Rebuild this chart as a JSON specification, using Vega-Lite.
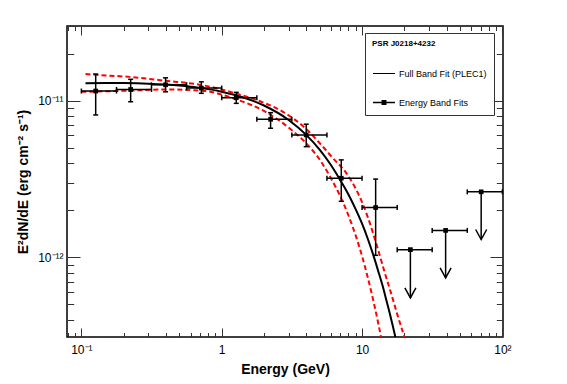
{
  "$schema": "https://vega.github.io/schema/vega-lite/v6.json",
  "width": 436,
  "height": 311,
  "autosize": {"type": "none"},
  "padding": {"left": 67, "top": 26, "right": 64, "bottom": 47},
  "background": "white",
  "datasets": {
    "curves": [
      {"curve": "fit", "E": 0.107, "F": 1.295e-11},
      {"curve": "fit", "E": 0.15, "F": 1.298e-11},
      {"curve": "fit", "E": 0.2, "F": 1.296e-11},
      {"curve": "fit", "E": 0.3, "F": 1.285e-11},
      {"curve": "fit", "E": 0.5, "F": 1.25e-11},
      {"curve": "fit", "E": 0.7, "F": 1.208e-11},
      {"curve": "fit", "E": 1.0, "F": 1.142e-11},
      {"curve": "fit", "E": 1.5, "F": 1.034e-11},
      {"curve": "fit", "E": 2.0, "F": 9.32e-12},
      {"curve": "fit", "E": 3.0, "F": 7.53e-12},
      {"curve": "fit", "E": 4.0, "F": 6.05e-12},
      {"curve": "fit", "E": 5.0, "F": 4.86e-12},
      {"curve": "fit", "E": 6.0, "F": 3.89e-12},
      {"curve": "fit", "E": 7.0, "F": 3.11e-12},
      {"curve": "fit", "E": 8.0, "F": 2.52e-12},
      {"curve": "fit", "E": 9.0, "F": 2.03e-12},
      {"curve": "fit", "E": 10.0, "F": 1.64e-12},
      {"curve": "fit", "E": 11.0, "F": 1.31e-12},
      {"curve": "fit", "E": 12.0, "F": 1.04e-12},
      {"curve": "fit", "E": 13.0, "F": 8.25e-13},
      {"curve": "fit", "E": 14.0, "F": 6.6e-13},
      {"curve": "fit", "E": 15.0, "F": 5.2e-13},
      {"curve": "fit", "E": 16.0, "F": 4.15e-13},
      {"curve": "fit", "E": 17.0, "F": 3.3e-13},
      {"curve": "fit", "E": 18.0, "F": 2.6e-13},
      {"curve": "fit", "E": 19.0, "F": 2.05e-13},
      {"curve": "upper", "E": 0.107, "F": 1.48e-11},
      {"curve": "upper", "E": 0.15, "F": 1.45e-11},
      {"curve": "upper", "E": 0.22, "F": 1.42e-11},
      {"curve": "upper", "E": 0.4, "F": 1.34e-11},
      {"curve": "upper", "E": 0.72, "F": 1.26e-11},
      {"curve": "upper", "E": 1.27, "F": 1.11e-11},
      {"curve": "upper", "E": 2.0, "F": 9.7e-12},
      {"curve": "upper", "E": 2.73, "F": 8.5e-12},
      {"curve": "upper", "E": 4.0, "F": 6.6e-12},
      {"curve": "upper", "E": 5.0, "F": 5.35e-12},
      {"curve": "upper", "E": 6.2, "F": 4.3e-12},
      {"curve": "upper", "E": 7.72, "F": 3.45e-12},
      {"curve": "upper", "E": 9.0, "F": 2.75e-12},
      {"curve": "upper", "E": 10.0, "F": 2.25e-12},
      {"curve": "upper", "E": 11.0, "F": 1.8e-12},
      {"curve": "upper", "E": 12.0, "F": 1.42e-12},
      {"curve": "upper", "E": 13.0, "F": 1.12e-12},
      {"curve": "upper", "E": 14.5, "F": 8.0e-13},
      {"curve": "upper", "E": 16.1, "F": 5.9e-13},
      {"curve": "upper", "E": 18.0, "F": 4.2e-13},
      {"curve": "upper", "E": 20.1, "F": 3.05e-13},
      {"curve": "upper", "E": 22.0, "F": 2.2e-13},
      {"curve": "lower", "E": 0.1, "F": 1.14e-11},
      {"curve": "lower", "E": 0.22, "F": 1.16e-11},
      {"curve": "lower", "E": 0.4, "F": 1.18e-11},
      {"curve": "lower", "E": 0.72, "F": 1.16e-11},
      {"curve": "lower", "E": 1.27, "F": 1.02e-11},
      {"curve": "lower", "E": 2.0, "F": 8.6e-12},
      {"curve": "lower", "E": 3.04, "F": 6.67e-12},
      {"curve": "lower", "E": 4.0, "F": 5.35e-12},
      {"curve": "lower", "E": 5.0, "F": 4.2e-12},
      {"curve": "lower", "E": 6.0, "F": 3.2e-12},
      {"curve": "lower", "E": 7.0, "F": 2.45e-12},
      {"curve": "lower", "E": 8.0, "F": 1.85e-12},
      {"curve": "lower", "E": 9.0, "F": 1.38e-12},
      {"curve": "lower", "E": 10.0, "F": 1.02e-12},
      {"curve": "lower", "E": 11.0, "F": 7.4e-13},
      {"curve": "lower", "E": 12.0, "F": 5.35e-13},
      {"curve": "lower", "E": 13.0, "F": 3.85e-13},
      {"curve": "lower", "E": 14.0, "F": 2.75e-13},
      {"curve": "lower", "E": 15.0, "F": 1.95e-13}
    ],
    "points": [
      {"kind": "band", "E": 0.1265, "F": 1.153e-11, "Elo": 0.1, "Ehi": 0.178, "Flo": 8.11e-12, "Fhi": 1.48e-11},
      {"kind": "band", "E": 0.2245, "F": 1.18e-11, "Elo": 0.178, "Ehi": 0.316, "Flo": 9.85e-12, "Fhi": 1.37e-11},
      {"kind": "band", "E": 0.398, "F": 1.264e-11, "Elo": 0.316, "Ehi": 0.562, "Flo": 1.14e-11, "Fhi": 1.40e-11},
      {"kind": "band", "E": 0.716, "F": 1.205e-11, "Elo": 0.562, "Ehi": 1.0, "Flo": 1.115e-11, "Fhi": 1.32e-11},
      {"kind": "band", "E": 1.27, "F": 1.045e-11, "Elo": 1.0, "Ehi": 1.78, "Flo": 9.62e-12, "Fhi": 1.131e-11},
      {"kind": "band", "E": 2.23, "F": 7.61e-12, "Elo": 1.78, "Ehi": 3.16, "Flo": 6.67e-12, "Fhi": 8.39e-12},
      {"kind": "band", "E": 4.0, "F": 6.05e-12, "Elo": 3.16, "Ehi": 5.62, "Flo": 5.09e-12, "Fhi": 7.08e-12},
      {"kind": "band", "E": 7.11, "F": 3.2e-12, "Elo": 5.62, "Ehi": 10.0, "Flo": 2.28e-12, "Fhi": 4.19e-12},
      {"kind": "band", "E": 12.5, "F": 2.08e-12, "Elo": 10.0, "Ehi": 17.8, "Flo": 1.03e-12, "Fhi": 3.16e-12},
      {"kind": "ul", "E": 22.1, "F": 1.12e-12, "Elo": 17.8, "Ehi": 31.6, "Ftip": 5.51e-13},
      {"kind": "ul", "E": 39.4, "F": 1.486e-12, "Elo": 31.6, "Ehi": 56.2, "Ftip": 7.40e-13},
      {"kind": "ul", "E": 70.6, "F": 2.62e-12, "Elo": 56.2, "Ehi": 100.0, "Ftip": 1.30e-12}
    ],
    "legend": [
      {"entry": "Full Band Fit (PLEC1)"},
      {"entry": "Energy Band Fits"}
    ]
  },
  "resolve": {"axis": {"x": "independent", "y": "independent"}},
  "layer": [
    {
      "data": {"name": "curves"},
      "transform": [{"filter": "datum.curve === 'fit'"}],
      "mark": {"type": "line", "color": "black", "strokeWidth": 2, "clip": true, "interpolate": "monotone"},
      "encoding": {
        "x": {"field": "E", "type": "quantitative", "scale": {"type": "log", "domain": [0.079, 101], "nice": false},
          "axis": {"orient": "bottom", "values": [0.1, 1, 10, 100], "ticks": true, "tickSize": -9, "labelPadding": 16,
            "labelExpr": "abs(datum.value-0.1)<1e-9 ? '10⁻¹' : abs(datum.value-1)<1e-9 ? '1' : abs(datum.value-10)<1e-9 ? '10' : abs(datum.value-100)<1e-9 ? '10²' : ''",
            "title": "Energy (GeV)", "titleY": 36, "titleBaseline": "alphabetic"}},
        "y": {"field": "F", "type": "quantitative", "scale": {"type": "log", "domain": [3.1e-13, 3.0e-11], "nice": false},
          "axis": {"orient": "left", "values": [1e-12, 1e-11], "ticks": true, "tickSize": -13, "labelPadding": 17,
            "labelExpr": "abs(datum.value/1e-11-1)<1e-6 ? '10⁻¹¹' : abs(datum.value/1e-12-1)<1e-6 ? '10⁻¹²' : ''",
            "title": "E²dN/dE (erg cm⁻² s⁻¹)", "titleX": -40, "titleBaseline": "alphabetic"}}
      }
    },
    {
      "data": {"name": "curves"},
      "transform": [{"filter": "datum.curve === 'upper'"}],
      "mark": {"type": "line", "color": "#ff0000", "strokeWidth": 2, "strokeDash": [5, 3], "clip": true, "interpolate": "monotone"},
      "encoding": {
        "x": {"field": "E", "type": "quantitative", "scale": {"type": "log", "domain": [0.079, 101], "nice": false},
          "axis": {"orient": "bottom", "values": [0.08, 0.09, 0.2, 0.3, 0.4, 0.5, 0.6, 0.7, 0.8, 0.9, 2, 3, 4, 5, 6, 7, 8, 9, 20, 30, 40, 50, 60, 70, 80, 90], "ticks": true, "tickSize": -4.5, "labels": true, "labelExpr": "''", "title": null}},
        "y": {"field": "F", "type": "quantitative", "scale": {"type": "log", "domain": [3.1e-13, 3.0e-11], "nice": false},
          "axis": {"orient": "left", "values": [4e-13, 5e-13, 6e-13, 7e-13, 8e-13, 9e-13, 2e-12, 3e-12, 4e-12, 5e-12, 6e-12, 7e-12, 8e-12, 9e-12, 2e-11, 3e-11], "ticks": true, "tickSize": -6.7, "labels": true, "labelExpr": "''", "title": null}}
      }
    },
    {
      "data": {"name": "curves"},
      "transform": [{"filter": "datum.curve === 'lower'"}],
      "mark": {"type": "line", "color": "#ff0000", "strokeWidth": 2, "strokeDash": [5, 3], "clip": true, "interpolate": "monotone"},
      "encoding": {
        "x": {"field": "E", "type": "quantitative", "scale": {"type": "log", "domain": [0.079, 101], "nice": false},
          "axis": {"orient": "top", "values": [0.1, 1, 10, 100], "ticks": true, "tickSize": -9, "labels": true, "labelExpr": "''", "title": null}},
        "y": {"field": "F", "type": "quantitative", "scale": {"type": "log", "domain": [3.1e-13, 3.0e-11], "nice": false},
          "axis": {"orient": "right", "values": [1e-12, 1e-11], "ticks": true, "tickSize": -13, "labels": true, "labelExpr": "''", "title": null}}
      }
    },
    {
      "data": {"name": "points"},
      "mark": {"type": "rule", "color": "black", "strokeWidth": 1.5},
      "encoding": {
        "x": {"field": "Elo", "type": "quantitative", "scale": {"type": "log", "domain": [0.079, 101], "nice": false}, "axis": null},
        "x2": {"field": "Ehi"},
        "y": {"field": "F", "type": "quantitative", "scale": {"type": "log", "domain": [3.1e-13, 3.0e-11], "nice": false}, "axis": null}
      }
    },
    {
      "data": {"name": "points"},
      "transform": [{"filter": "datum.kind === 'band'"}],
      "mark": {"type": "rule", "color": "black", "strokeWidth": 1.5},
      "encoding": {
        "x": {"field": "E", "type": "quantitative", "scale": {"type": "log", "domain": [0.079, 101], "nice": false},
          "axis": {"orient": "top", "values": [0.08, 0.09, 0.2, 0.3, 0.4, 0.5, 0.6, 0.7, 0.8, 0.9, 2, 3, 4, 5, 6, 7, 8, 9, 20, 30, 40, 50, 60, 70, 80, 90], "ticks": true, "tickSize": -4.5, "labels": true, "labelExpr": "''", "title": null}},
        "y": {"field": "Flo", "type": "quantitative", "scale": {"type": "log", "domain": [3.1e-13, 3.0e-11], "nice": false},
          "axis": {"orient": "right", "values": [4e-13, 5e-13, 6e-13, 7e-13, 8e-13, 9e-13, 2e-12, 3e-12, 4e-12, 5e-12, 6e-12, 7e-12, 8e-12, 9e-12, 2e-11, 3e-11], "ticks": true, "tickSize": -6.7, "labels": true, "labelExpr": "''", "title": null}},
        "y2": {"field": "Fhi"}
      }
    },
    {
      "data": {"name": "points"},
      "transform": [{"fold": ["Elo", "Ehi"], "as": ["end", "Ecap"]}],
      "mark": {"type": "point", "shape": "M0,-1V1", "size": 25, "filled": false, "color": "black", "strokeWidth": 1.5, "opacity": 1},
      "encoding": {
        "x": {"field": "Ecap", "type": "quantitative", "scale": {"type": "log", "domain": [0.079, 101], "nice": false}, "axis": null},
        "y": {"field": "F", "type": "quantitative", "scale": {"type": "log", "domain": [3.1e-13, 3.0e-11], "nice": false}, "axis": null}
      }
    },
    {
      "data": {"name": "points"},
      "transform": [{"filter": "datum.kind === 'band'"}, {"fold": ["Flo", "Fhi"], "as": ["end", "Fcap"]}],
      "mark": {"type": "point", "shape": "M-1,0H1", "size": 25, "filled": false, "color": "black", "strokeWidth": 1.5, "opacity": 1},
      "encoding": {
        "x": {"field": "E", "type": "quantitative", "scale": {"type": "log", "domain": [0.079, 101], "nice": false}, "axis": null},
        "y": {"field": "Fcap", "type": "quantitative", "scale": {"type": "log", "domain": [3.1e-13, 3.0e-11], "nice": false}, "axis": null}
      }
    },
    {
      "data": {"name": "points"},
      "transform": [{"filter": "datum.kind === 'ul'"}],
      "mark": {"type": "rule", "color": "black", "strokeWidth": 1.5},
      "encoding": {
        "x": {"field": "E", "type": "quantitative", "scale": {"type": "log", "domain": [0.079, 101], "nice": false}, "axis": null},
        "y": {"field": "F", "type": "quantitative", "scale": {"type": "log", "domain": [3.1e-13, 3.0e-11], "nice": false}, "axis": null},
        "y2": {"field": "Ftip"}
      }
    },
    {
      "data": {"name": "points"},
      "transform": [{"filter": "datum.kind === 'ul'"}],
      "mark": {"type": "point", "shape": "M-0.55,-1L0,0L0.55,-1", "size": 400, "filled": false, "color": "black", "strokeWidth": 1.5, "opacity": 1},
      "encoding": {
        "x": {"field": "E", "type": "quantitative", "scale": {"type": "log", "domain": [0.079, 101], "nice": false}, "axis": null},
        "y": {"field": "Ftip", "type": "quantitative", "scale": {"type": "log", "domain": [3.1e-13, 3.0e-11], "nice": false}, "axis": null}
      }
    },
    {
      "data": {"name": "points"},
      "mark": {"type": "point", "shape": "square", "size": 22, "filled": true, "color": "black", "opacity": 1},
      "encoding": {
        "x": {"field": "E", "type": "quantitative", "scale": {"type": "log", "domain": [0.079, 101], "nice": false}, "axis": null},
        "y": {"field": "F", "type": "quantitative", "scale": {"type": "log", "domain": [3.1e-13, 3.0e-11], "nice": false}, "axis": null}
      }
    },
    {
      "data": {"name": "legend"},
      "mark": {"type": "point", "filled": true, "color": "black", "opacity": 0},
      "encoding": {
        "shape": {"field": "entry", "type": "nominal",
          "scale": {"domain": ["Full Band Fit (PLEC1)", "Energy Band Fits"], "range": ["M-2,-0.09H2V0.09H-2Z", "M-2,-0.12H2V0.12H-2ZM-0.45,-0.45H0.45V0.45H-0.45Z"]},
          "legend": {"title": "PSR J0218+4232", "orient": "none", "legendX": 298, "legendY": 7, "padding": 7,
            "strokeColor": "#333333", "fillColor": "white",
            "titleFont": "Liberation Sans", "titleFontSize": 8, "titleFontWeight": "bold", "titleColor": "black", "titlePadding": 20,
            "labelFont": "Liberation Sans", "labelFontSize": 9, "labelColor": "black", "labelOffset": 9.5, "labelLimit": 200,
            "symbolSize": 121, "symbolOffset": 6.5, "rowPadding": 18,
            "symbolFillColor": "black", "symbolStrokeColor": "black", "symbolOpacity": 1, "symbolStrokeWidth": 0,
            "encode": {"symbols": {"update": {"fill": {"value": "black"}, "opacity": {"value": 1}}}}}}
      }
    }
  ],
  "config": {
    "view": {"stroke": "black", "strokeWidth": 1.5},
    "axis": {"grid": false, "domain": false, "labelFont": "Liberation Sans", "labelFontSize": 12, "labelColor": "black",
      "tickColor": "#333333", "tickWidth": 1, "titleFont": "Liberation Sans", "titleFontSize": 14, "titleFontWeight": "bold",
      "titleColor": "black", "labelOverlap": false, "labelFlush": false}
  }
}
